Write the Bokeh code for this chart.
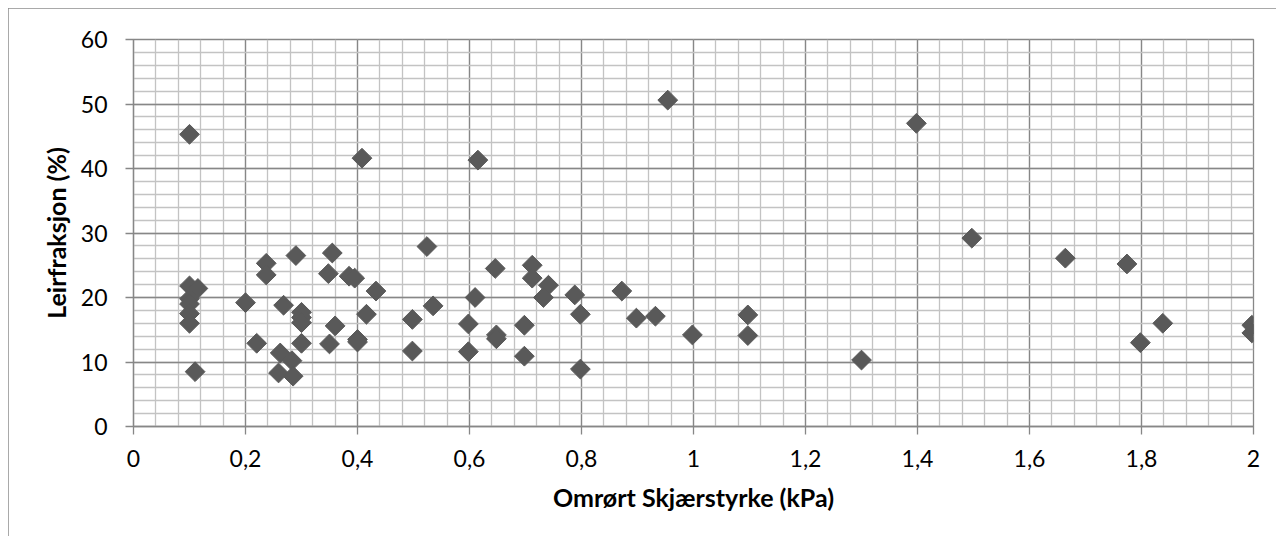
from bokeh.plotting import figure
from bokeh.models import SingleIntervalTicker, CustomJSTickFormatter, Range1d, ColumnDataSource, Title
from bokeh.embed import file_html
from bokeh.resources import INLINE
import numpy as np

# Omrørt skjærstyrke (kPa)
shear = [0.10, 0.10, 0.115, 0.10, 0.10, 0.10, 0.10, 0.11,
         0.20, 0.22, 0.237, 0.237, 0.29, 0.268, 0.30, 0.30, 0.30, 0.30,
         0.262, 0.283, 0.259, 0.285, 0.355, 0.348, 0.36, 0.35,
         0.385, 0.395, 0.408, 0.433, 0.416, 0.40, 0.40,
         0.498, 0.498, 0.524, 0.535, 0.615, 0.61, 0.598, 0.598,
         0.646, 0.648, 0.648, 0.712, 0.712, 0.741, 0.732, 0.698, 0.698,
         0.788, 0.798, 0.798, 0.872, 0.898, 0.932, 0.954, 0.998,
         1.097, 1.097, 1.30, 1.398, 1.497, 1.664, 1.774, 1.838, 1.798,
         1.997, 1.997]
# Leirfraksjon (%)
clay = [45.3, 21.8, 21.4, 19.8, 19.0, 17.5, 16.0, 8.5,
        19.2, 12.9, 25.3, 23.5, 26.5, 18.8, 17.7, 16.9, 16.1, 12.9,
        11.4, 10.2, 8.3, 7.8, 26.9, 23.7, 15.6, 12.8,
        23.3, 23.0, 41.6, 21.0, 17.4, 13.5, 13.1,
        16.6, 11.7, 27.9, 18.7, 41.3, 20.0, 15.9, 11.6,
        24.5, 14.2, 13.6, 25.0, 23.0, 21.9, 20.0, 15.7, 10.9,
        20.4, 17.4, 8.9, 21.0, 16.8, 17.1, 50.6, 14.2,
        17.3, 14.1, 10.3, 47.0, 29.2, 26.1, 25.2, 16.0, 13.0,
        15.7, 14.5]

x_title = "Omrørt Skjærstyrke (kPa)"
y_title = "Leirfraksjon (%)"

FONT = "Lato"
MAJOR = "#878787"
MINOR = "#c3c3c3"

p = figure(width=1268, height=528, output_backend="svg", toolbar_location=None,
           x_range=Range1d(0, 2), y_range=Range1d(0, 60),
           min_border_left=125, min_border_right=23, min_border_top=31, min_border_bottom=110)
p.margin = (8, 8, 8, 8)
p.styles = {"outline": "1px solid #8c8c8c", "outline-offset": "-1px"}
p.outline_line_color = MAJOR
p.outline_line_width = 1.3
p.background_fill_color = "white"
p.border_fill_color = "white"

p.xaxis.ticker = SingleIntervalTicker(interval=0.2, num_minor_ticks=5)
p.yaxis.ticker = SingleIntervalTicker(interval=10, num_minor_ticks=5)
p.xaxis.formatter = CustomJSTickFormatter(code="return (Math.round(tick*10)/10).toString().replace('.', ',');")

for ax in (p.xaxis, p.yaxis):
    ax.axis_line_color = MAJOR
    ax.axis_line_width = 1.3
    ax.major_tick_line_color = MAJOR
    ax.major_tick_line_width = 1.3
    ax.major_tick_out = 8
    ax.major_tick_in = 0
    ax.minor_tick_out = 0
    ax.minor_tick_in = 0
    ax.major_label_text_font = FONT
    ax.major_label_text_font_size = "23px"
    ax.major_label_text_color = "black"
    ax.axis_label_text_font = FONT
    ax.axis_label_text_font_size = "25px"
    ax.axis_label_text_font_style = "bold"
    ax.axis_label_text_color = "black"

p.xaxis.major_label_standoff = 15
p.yaxis.major_label_standoff = 18
p.xaxis.axis_label = x_title
p.xaxis.axis_label_standoff = 12

# y-axis title as a left-side title, nudged up like the reference
ytitle = Title(text=y_title, align="center", offset=15, standoff=14,
               text_font=FONT, text_font_size="25px", text_font_style="bold",
               text_color="black")
p.add_layout(ytitle, "left")

for g in (p.xgrid, p.ygrid):
    g.grid_line_color = MAJOR
    g.grid_line_width = 1.3
    g.minor_grid_line_color = MINOR
    g.minor_grid_line_width = 1.3

src = ColumnDataSource(dict(x=shear, y=clay))
p.scatter("x", "y", source=src, marker="square", size=14, angle=np.pi / 4,
          fill_color="#595959", line_color="#595959", line_width=1)

open("out.html", "w").write(file_html(p, INLINE))
